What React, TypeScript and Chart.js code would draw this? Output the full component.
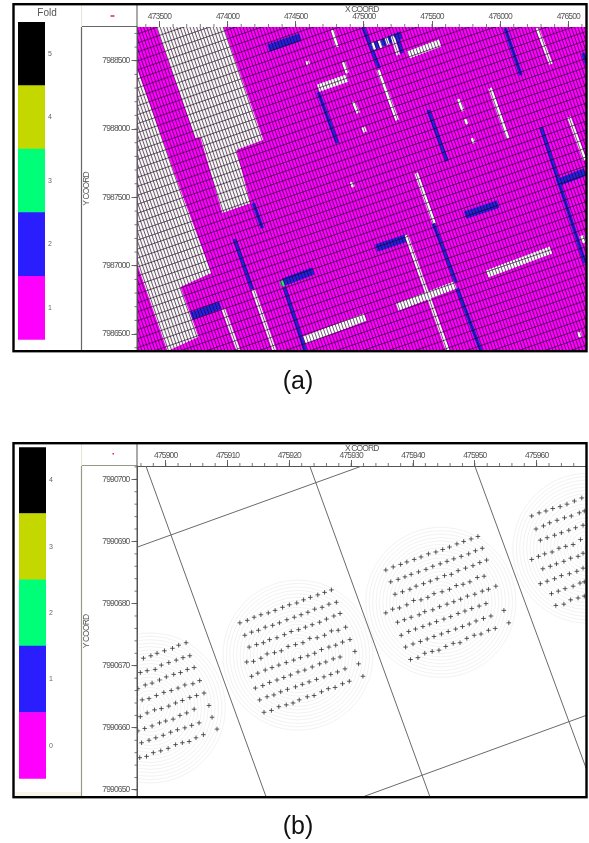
import React, { useEffect, useRef } from "react";
import { Chart, registerables } from "chart.js";

Chart.register(...registerables);

/* ---------- panel (a): offsets in metres from the base coordinate ---------- */
const baseA = [473000, 7986000];
const xRangeA = [473339, 476630];
const yRangeA = [7986376, 7988747];
const xTicksA = [473500, 474000, 474500, 475000, 475500, 476000, 476500];
const yTicksA = [7986500, 7987000, 7987500, 7988000, 7988500];
const foldLabelsA = ["5", "4", "3", "2", "1"];

const gridAngleDeg = 19;
const gridRowSpacing = 62;
const gridColSpacing = 23;

const emptyBlockTop = [[478, 2747], [969, 2747], [1262, 1920], [1064, 1846], [1167, 1458], [962, 1385], [801, 1941], [764, 1934]];
const emptyBlockLeft = [[339, 2432], [654, 1554], [881, 946], [654, 844], [786, 478], [559, 376], [339, 1005]];

const blueRowStrips = [
  [1299, 2593, 1534, 2673], [2061, 2600, 2274, 2688], [3417, 1605, 3623, 1685], [2743, 1371, 2985, 1451],
  [2091, 1129, 2311, 1202], [1409, 880, 1629, 961], [735, 631, 947, 712],
];
const blueColStrips = [
  [1995, 2739, 2113, 2447], [2245, 2666, 2281, 2556], [1665, 2271, 1805, 1898], [2472, 2139, 2611, 1766],
  [3036, 2739, 3153, 2395], [3300, 2015, 3623, 1019], [3608, 2556, 3630, 2483], [2508, 1312, 2677, 880],
  [2684, 836, 2860, 375], [1050, 1195, 1182, 829], [1189, 1458, 1255, 1275], [1416, 843, 1570, 375],
];
const greenColStrips = [[1394, 888, 1409, 851]];
const whiteColStrips = [
  [1768, 2725, 1805, 2600], [1585, 2498, 1592, 2469], [1849, 2490, 1878, 2410], [1922, 2198, 1959, 2117],
  [1995, 2015, 2010, 1978], [2105, 2432, 2245, 2066], [2692, 2220, 2728, 2132], [2743, 2073, 2758, 2037],
  [2794, 1934, 2809, 1898], [2926, 2300, 3058, 1934], [3271, 2739, 3373, 2476], [3505, 2088, 3623, 1773],
  [1907, 1612, 1922, 1575], [2384, 1678, 2516, 1312], [2311, 1224, 2618, 375], [969, 682, 1079, 382],
  [1189, 822, 1343, 382], [2215, 2666, 2252, 2542], [3579, 514, 3586, 478],
];
const whiteRowStrips = [
  [1665, 2300, 1878, 2373], [2325, 2542, 2560, 2630], [2245, 697, 2670, 859], [2904, 939, 3373, 1115],
  [1563, 456, 2010, 624], [3593, 1188, 3623, 1202], [2060, 2605, 2080, 2612], [2110, 2618, 2130, 2625],
  [2161, 2640, 2181, 2647], [2205, 2655, 2225, 2662],
];

/* ---------- panel (b): offsets in metres from the base coordinate ---------- */
const baseB = [475900, 7990650];
const xRangeB = [475895.44, 475967.98];
const yRangeB = [7990648.87, 7990702.14];
const xTicksB = [475900, 475910, 475920, 475930, 475940, 475950, 475960];
const yTicksB = [7990650, 7990660, 7990670, 7990680, 7990690, 7990700];
const foldLabelsB = ["4", "3", "2", "1", "0"];

const surveyLines = [
  [[-3.2, 52.14], [16.2, -1.0]],
  [[23.3, 52.14], [42.7, -1.0]],
  [[50.0, 52.14], [68.0, 3.5]],
  [[-4.56, 39.1], [31.75, 52.14]],
  [[31.75, -1.16], [68.0, 12.0]],
];
const ringCentres = [[-2.5, 13.2], [21.4, 21.7], [44.5, 30.2], [68.3, 38.9]];
const ringRadii = [75, 71.6, 68.2, 64.8, 61.4, 58, 54.6, 51.2, 47.8, 44.4, 41, 37.6, 34.2, 30.8, 27.4, 24, 20.6, 17.2, 13.8, 10.4, 7, 3.6];

const clusterOne = [
  [-3.6,21.2],[-2.4,21.6],[-1.4,22.0],[-0.2,22.4],[1.1,22.8],[2.1,23.3],[3.3,23.7],
  [-4.1,18.9],[-3.0,19.2],[-1.7,19.4],[-0.7,20.1],[0.5,20.5],[1.7,20.9],[2.8,21.3],[3.9,21.6],
  [-4.5,16.3],[-3.3,16.9],[-2.2,17.2],[-1.0,17.7],[0.1,18.2],[1.3,18.6],[2.4,18.9],[3.5,19.4],[4.6,19.7],
  [-3.8,14.5],[-2.7,14.7],[-1.5,15.2],[-0.3,15.7],[0.9,16.0],[2.0,16.4],[3.1,16.9],[4.4,17.1],[5.5,17.6],
  [-4.1,11.8],[-3.0,12.4],[-1.8,12.9],[-0.7,13.1],[0.5,13.5],[1.6,14.0],[2.7,14.4],[3.9,14.9],[5.0,15.2],[6.2,15.6],
  [-4.5,9.5],[-3.4,9.9],[-2.2,10.3],[-1.0,10.8],[0.0,11.1],[1.2,11.4],[2.3,12.0],[3.4,12.4],[4.6,13.0],[7.0,13.6],
  [-3.9,7.6],[-2.7,8.0],[-1.6,8.4],[-0.4,8.8],[0.8,9.3],[1.9,9.7],[3.1,10.0],[4.2,10.4],[5.4,10.8],[7.5,11.7],
  [-4.2,5.2],[-3.1,5.4],[-2.0,6.0],[-0.8,6.3],[0.4,6.7],[1.6,7.3],[2.7,7.6],[3.8,7.8],[4.9,8.4],[6.1,8.9],[8.3,9.8],
];
const clusterTwo = [
  [12.0,26.9],[13.2,27.3],[14.3,27.8],[15.4,28.2],[16.6,28.5],[17.7,28.9],[18.9,29.4],[20.0,29.8],[21.2,30.1],[22.3,30.6],[23.4,31.0],[24.6,31.4],[25.7,31.8],[26.8,32.2],
  [12.8,24.9],[13.9,25.4],[15.0,25.7],[16.1,26.2],[17.3,26.5],[18.4,26.9],[19.6,27.4],[20.8,27.8],[21.9,28.2],[23.0,28.6],[24.1,29.1],[25.3,29.4],[26.4,29.9],[27.6,30.2],
  [13.5,23.0],[14.7,23.4],[15.8,23.7],[16.8,24.2],[18.0,24.5],[19.2,25.0],[20.3,25.5],[21.5,25.8],[22.6,26.2],[23.7,26.6],[24.9,27.0],[26.0,27.5],[27.2,28.0],[28.2,28.4],
  [13.1,20.6],[14.2,20.7],[15.4,21.2],[16.4,21.9],[17.6,22.1],[18.7,22.4],[19.8,23.1],[21.0,23.4],[22.2,23.7],[23.3,24.4],[24.5,24.5],[25.7,24.9],[26.8,25.6],[27.9,25.7],[29.1,26.2],
  [13.9,18.3],[14.9,18.8],[16.1,19.3],[17.2,19.7],[18.3,20.1],[19.5,20.5],[20.7,20.9],[21.8,21.3],[23.0,21.6],[24.1,22.0],[25.2,22.6],[26.4,23.0],[27.5,23.3],[28.6,23.8],[29.8,24.2],
  [14.5,16.4],[15.7,16.8],[16.8,17.3],[18.0,17.7],[19.1,18.1],[20.2,18.5],[21.4,19.0],[22.5,19.3],[23.7,19.8],[24.9,20.3],[25.9,20.6],[27.1,21.1],[28.2,21.4],
  [15.2,14.5],[16.4,15.0],[17.5,15.3],[18.6,15.8],[19.7,16.2],[21.0,16.6],[22.1,17.0],[23.2,17.4],[24.4,17.8],[25.6,18.2],[26.7,18.6],[27.8,19.0],[29.0,19.5],
  [15.9,12.5],[17.1,12.8],[18.3,13.4],[19.5,13.7],[20.6,14.0],[21.6,14.5],[22.9,15.0],[24.0,15.2],[25.2,15.8],[26.3,16.3],[27.4,16.5],[28.6,17.1],[29.7,17.5],
  [30.6,22.3],[31.2,20.3],[31.9,18.3],
];
const clusterThree = [
  [35.6,35.4],[36.8,35.9],[38.0,36.3],[39.0,36.7],[40.2,37.1],[41.3,37.5],[42.5,38.0],[43.7,38.3],[44.8,38.7],[45.9,39.1],[47.1,39.6],[48.2,40.0],[49.4,40.4],[50.5,40.8],
  [36.4,33.5],[37.6,33.9],[38.7,34.3],[39.7,34.7],[40.9,35.1],[42.1,35.5],[43.2,36.0],[44.4,36.4],[45.5,36.8],[46.6,37.2],[47.8,37.6],[49.0,38.0],[50.1,38.5],[51.2,38.9],
  [37.1,31.5],[38.3,31.9],[39.5,32.3],[40.5,32.8],[41.7,33.2],[42.8,33.6],[43.9,34.0],[45.1,34.5],[46.2,34.7],[47.3,35.3],[48.5,35.7],[49.7,36.1],[50.8,36.6],[51.9,37.0],
  [35.6,28.5],[36.7,29.1],[37.8,29.3],[39.0,29.8],[40.1,30.5],[41.3,30.6],[42.4,31.0],[43.4,31.6],[44.7,31.9],[45.9,32.3],[47.0,32.9],[48.1,33.1],[49.2,33.5],[50.4,34.2],[51.5,34.4],
  [37.5,27.0],[38.6,27.4],[39.7,27.8],[41.0,28.2],[41.9,28.7],[43.2,29.0],[44.3,29.5],[45.5,29.9],[46.6,30.3],[47.7,30.7],[48.8,31.2],[50.0,31.5],[51.2,32.0],[52.2,32.3],[53.4,32.8],
  [38.1,24.9],[39.3,25.5],[40.4,25.9],[41.6,26.3],[42.7,26.7],[43.8,27.1],[45.0,27.5],[46.1,27.9],[47.3,28.4],[48.4,28.8],[49.5,29.2],[50.7,29.6],[51.8,30.0],
  [38.8,23.0],[40.0,23.5],[41.2,23.9],[42.3,24.3],[43.4,24.7],[44.6,25.1],[45.7,25.5],[46.9,25.9],[48.0,26.3],[49.1,26.7],[50.2,27.2],[51.4,27.6],[52.6,28.0],
  [39.6,21.0],[40.8,21.3],[41.9,22.0],[43.1,22.3],[44.2,22.5],[45.3,23.1],[46.5,23.6],[47.6,23.7],[48.7,24.4],[49.9,24.9],[51.0,25.1],[52.2,25.7],[53.3,26.0],
  [54.7,28.9],[55.5,26.9],
];
const clusterFour = [
  [59.2,44.1],[60.4,44.6],[61.5,44.9],[62.6,45.3],[63.8,45.6],[64.9,46.0],[66.1,46.5],[67.3,47.0],
  [59.9,42.0],[61.1,42.5],[62.1,43.0],[63.3,43.4],[64.5,43.8],[65.6,44.1],[66.9,44.6],[67.7,44.9],
  [60.6,40.2],[61.7,40.6],[62.9,41.0],[64.0,41.4],[65.2,41.8],[66.3,42.2],[67.5,42.6],
  [59.2,37.1],[60.3,37.6],[61.3,38.0],[62.5,38.3],[63.6,38.9],[64.7,39.2],[65.9,39.5],[67.1,40.3],
  [61.0,35.6],[62.2,36.0],[63.2,36.4],[64.4,36.8],[65.5,37.3],[66.7,37.6],[67.5,38.1],
  [60.6,33.2],[61.7,33.6],[62.9,34.0],[64.0,34.5],[65.3,34.8],[66.5,35.2],[67.5,35.7],
  [62.4,31.6],[63.5,32.0],[64.6,32.4],[65.9,32.8],[67.0,33.3],[67.7,33.5],
  [63.1,29.7],[64.4,29.9],[65.5,30.6],[66.7,30.9],[67.7,31.2],
];

/* ---------- colours ---------- */
const foldColours = ["#000000", "#c4d800", "#00ff78", "#2a1eff", "#ff00ff"];
const tickFont = '"Liberation Sans", sans-serif';
const tickGrey = "#555555";

const range = (from: number, to: number, step: number) => {
  const out: number[] = [];
  for (let v = from; v <= to; v += step) out.push(v);
  return out;
};

type Pt = { x: number; y: number };

const lineSet = (data: Pt[], color: string, width: number, fill?: string) => ({
  data,
  showLine: true,
  pointRadius: 0,
  borderColor: color,
  borderWidth: width,
  backgroundColor: color,
  fill: fill ?? false,
  tension: 0,
  clip: 0,
  spanGaps: false,
});

const offsetA = (p: number[]): Pt => ({ x: baseA[0] + p[0], y: baseA[1] + p[1] });
const offsetB = (p: number[]): Pt => ({ x: baseB[0] + p[0], y: baseB[1] + p[1] });
const stripA = (s: number[]) => [offsetA([s[0], s[1]]), offsetA([s[2], s[3]])];

/* cell borders of the regular survey lattice */
const latticeLines = (): Pt[] => {
  const a = (gridAngleDeg * Math.PI) / 180;
  const u = [Math.cos(a), Math.sin(a)];
  const v = [Math.sin(a), -Math.cos(a)];
  const c = [(xRangeA[0] + xRangeA[1]) / 2, (yRangeA[0] + yRangeA[1]) / 2];
  const reach = 2600;
  const pts: Pt[] = [];
  const gap = { x: NaN, y: NaN };
  for (let k = -reach; k <= reach; k += gridRowSpacing) {
    pts.push({ x: c[0] + v[0] * k - u[0] * reach, y: c[1] + v[1] * k - u[1] * reach });
    pts.push({ x: c[0] + v[0] * k + u[0] * reach, y: c[1] + v[1] * k + u[1] * reach });
    pts.push(gap);
  }
  for (let k = -reach; k <= reach; k += gridColSpacing) {
    pts.push({ x: c[0] + u[0] * k - v[0] * reach, y: c[1] + u[1] * k - v[1] * reach });
    pts.push({ x: c[0] + u[0] * k + v[0] * reach, y: c[1] + u[1] * k + v[1] * reach });
    pts.push(gap);
  }
  return pts;
};

const datasetsA = () => {
  const layers: any[] = [
    lineSet([[339, 376], [3630, 376], [3630, 2747], [339, 2747]].map(offsetA), foldColours[4], 0, "shape"),
    lineSet(emptyBlockTop.map(offsetA), "#f6f6f2", 0, "shape"),
    lineSet(emptyBlockLeft.map(offsetA), "#f6f6f2", 0, "shape"),
    ...blueRowStrips.map((s) => lineSet(stripA(s), "#2222e0", 7.6)),
    ...blueColStrips.map((s) => lineSet(stripA(s), "#2222e0", 3.6)),
    ...greenColStrips.map((s) => lineSet(stripA(s), "#30e070", 3.6)),
    ...whiteRowStrips.map((s) => lineSet(stripA(s), "#ffffff", 7.6)),
    ...whiteColStrips.map((s) => lineSet(stripA(s), "#ffffff", 3.6)),
    lineSet(latticeLines(), "rgba(30,0,40,0.72)", 0.9),
  ];
  return layers.map((d, i) => ({ ...d, order: layers.length - i }));
};

const datasetsB = () => {
  const layers: any[] = [
    ...ringRadii.map((r) => ({
      data: ringCentres.map(offsetB),
      pointStyle: "circle",
      pointRadius: r,
      pointBorderWidth: 0.5,
      pointBorderColor: "#e4e4e4",
      pointBackgroundColor: "rgba(0,0,0,0)",
      showLine: false,
      clip: 0,
    })),
    ...surveyLines.map((l) => lineSet(l.map(offsetB), "#6a6a6a", 1)),
    ...[clusterOne, clusterTwo, clusterThree, clusterFour].map((c) => ({
      data: c.map(offsetB),
      pointStyle: "cross",
      pointRadius: 2.3,
      pointBorderWidth: 0.8,
      pointBorderColor: "#333333",
      showLine: false,
      clip: 0,
    })),
  ];
  return layers.map((d, i) => ({ ...d, order: layers.length - i }));
};

type PanelSpec = {
  top: number; bottom: number; areaTop: number;
  xRange: number[]; yRange: number[]; xTicks: number[]; yTicks: number[];
  xMinor: number[]; yMinor: number[];
  sepColor: string; markColor: string; markY: number; markW: number; markH: number;
  datasets: any[]; footer?: boolean;
};

const panelPlugin = (p: PanelSpec) => ({
  id: "panelChrome",
  beforeDraw(chart: any) {
    const c = chart.ctx;
    c.letterSpacing = "-0.85px";
    c.save();
    c.fillStyle = "#ffffff";
    c.fillRect(13, p.top, 574, p.bottom - p.top);
    if (p.footer) {
      c.fillStyle = "#f6f5e6";
      c.fillRect(14, p.bottom - 5, 67, 4);
    }
    c.restore();
  },
  afterDraw(chart: any) {
    const c = chart.ctx;
    const { x, y } = chart.scales;
    const area = chart.chartArea;
    c.save();
    c.strokeStyle = tickGrey;
    c.lineWidth = 0.8;
    c.beginPath();
    p.xMinor.forEach((v) => {
      const px = x.getPixelForValue(v);
      c.moveTo(px, area.top);
      c.lineTo(px, area.top - 3);
    });
    p.yMinor.forEach((v) => {
      const py = y.getPixelForValue(v);
      c.moveTo(area.left, py);
      c.lineTo(area.left - 3, py);
    });
    c.stroke();

    c.strokeStyle = p.sepColor;
    c.lineWidth = 1.2;
    c.beginPath();
    c.moveTo(81.5, p.areaTop);
    c.lineTo(81.5, p.bottom);
    c.moveTo(81, p.areaTop - 0.5);
    c.lineTo(area.left, p.areaTop - 0.5);
    c.stroke();
    c.strokeStyle = "#555555";
    c.lineWidth = 1;
    c.beginPath();
    c.moveTo(area.left - 0.5, p.top);
    c.lineTo(area.left - 0.5, p.bottom);
    c.stroke();
    c.strokeStyle = "#e5e5da";
    c.beginPath();
    c.moveTo(81.5, p.top);
    c.lineTo(81.5, p.areaTop);
    c.stroke();

    c.fillStyle = p.markColor;
    c.fillRect(110.5 + (p.markW > 2 ? 0 : 2), p.markY, p.markW, p.markH);

    c.strokeStyle = "#000000";
    c.lineWidth = 2.4;
    c.strokeRect(13.5, p.top + 0.2, 573, p.bottom - p.top);
    c.restore();
    c.letterSpacing = "0px";
  },
});

const makePanel = (canvas: HTMLCanvasElement, p: PanelSpec) => {
  const left = 137.5;
  const right = 586;
  const axisOptions = (range2: number[], ticks: number[], title: string, position: string, size: number) => ({
    type: "linear",
    position,
    min: range2[0],
    max: range2[1],
    afterBuildTicks: (s: any) => {
      s.ticks = ticks.map((value) => ({ value }));
    },
    afterFit: (s: any) => {
      if (position === "top") s.height = size;
      else s.width = size;
    },
    grid: { drawOnChartArea: false, drawTicks: true, tickLength: 6, tickColor: tickGrey, tickWidth: 0.9 },
    border: { display: true, color: "#555555", width: 1 },
    ticks: {
      autoSkip: false,
      maxRotation: 0,
      minRotation: 0,
      padding: position === "top" ? -1 : 2,
      color: tickGrey,
      font: { family: tickFont, size: 8.5 },
      callback: (v: number) => String(v),
    },
    title: {
      display: true,
      text: title,
      color: "#555555",
      font: { family: tickFont, size: 8.5, lineHeight: 1 },
      padding: { top: 1, bottom: 0 },
    },
  });
  return new Chart(canvas, {
    type: "scatter",
    data: { datasets: p.datasets },
    options: {
      responsive: false,
      animation: false,
      events: [],
      layout: {
        autoPadding: false,
        padding: { left: 81, right: canvas.width - right, top: p.top, bottom: canvas.height - p.bottom },
      },
      plugins: { legend: { display: false }, tooltip: { enabled: false }, title: { display: false } },
      scales: {
        x: axisOptions(p.xRange, p.xTicks, "X COORD", "top", p.areaTop - p.top),
        y: axisOptions(p.yRange, p.yTicks, "Y COORD", "left", left - 81),
      },
    } as any,
    plugins: [panelPlugin(p)],
  } as any);
};

const makeFoldBar = (canvas: HTMLCanvasElement, labels: string[], title: string | null) =>
  new Chart(canvas, {
    type: "bar",
    data: {
      labels,
      datasets: [
        {
          data: labels.map(() => 1),
          backgroundColor: foldColours,
          barPercentage: 1,
          categoryPercentage: 1,
          borderWidth: 0,
        },
      ],
    },
    options: {
      indexAxis: "y",
      responsive: false,
      animation: false,
      events: [],
      layout: { autoPadding: false, padding: { left: 4 } },
      plugins: {
        legend: { display: false },
        tooltip: { enabled: false },
        title: {
          display: !!title,
          text: title ?? "",
          color: "#555555",
          font: { family: tickFont, size: 10, weight: "normal", lineHeight: 1.2 },
          padding: { top: 1, bottom: 3 },
        },
      },
      scales: {
        x: { type: "linear", min: 0, max: 1, display: false },
        y: {
          type: "category",
          position: "right",
          afterFit: (s: any) => {
            s.width = 31;
          },
          grid: { display: false, drawTicks: false, tickLength: 0 },
          border: { display: false },
          ticks: { color: "#666666", padding: 3, font: { family: tickFont, size: 7 } },
        },
      },
    } as any,
  } as any);

const absolute = (left: number, top: number): React.CSSProperties => ({
  position: "absolute",
  left,
  top,
  display: "block",
  filter: "blur(0.3px)",
});

export default function App() {
  const panelA = useRef<HTMLCanvasElement>(null);
  const panelB = useRef<HTMLCanvasElement>(null);
  const barA = useRef<HTMLCanvasElement>(null);
  const barB = useRef<HTMLCanvasElement>(null);

  useEffect(() => {
    const charts = [
      makePanel(panelA.current!, {
        top: 4,
        bottom: 351,
        areaTop: 27,
        xRange: xRangeA,
        yRange: yRangeA,
        xTicks: xTicksA,
        yTicks: yTicksA,
        xMinor: range(473400, 476600, 100),
        yMinor: range(7986400, 7988700, 100),
        sepColor: "#666666",
        markColor: "#e0607c",
        markY: 15,
        markW: 4,
        markH: 2,
        datasets: datasetsA(),
      }),
      makePanel(panelB.current!, {
        top: 443,
        bottom: 797,
        areaTop: 466,
        xRange: xRangeB,
        yRange: yRangeB,
        xTicks: xTicksB,
        yTicks: yTicksB,
        xMinor: range(475896, 475966, 2),
        yMinor: range(7990650, 7990702, 2),
        sepColor: "#999988",
        markColor: "#e02050",
        markY: 453,
        markW: 1.5,
        markH: 1.5,
        datasets: datasetsB(),
        footer: true,
      }),
      makeFoldBar(barA.current!, foldLabelsA, "Fold"),
      makeFoldBar(barB.current!, foldLabelsB, null),
    ];
    return () => charts.forEach((c) => c.destroy());
  }, []);

  const caption: React.CSSProperties = {
    position: "absolute",
    width: 100,
    textAlign: "center",
    font: '25px/30px "Liberation Sans", Arial, sans-serif',
    color: "#111111",
  };

  return (
    <div style={{ position: "absolute", left: 0, top: 0, width: 589, height: 843, background: "#ffffff", overflow: "hidden" }}>
      <canvas ref={panelA} width={589} height={400} style={absolute(0, 0)} />
      <canvas ref={panelB} width={589} height={843} style={absolute(0, 0)} />
      <canvas ref={barA} width={62} height={341} style={absolute(14, 6)} />
      <canvas ref={barB} width={62} height={346} style={absolute(14.5, 440)} />
      <div style={{ ...caption, left: 248, top: 365 }}>(a)</div>
      <div style={{ ...caption, left: 248, top: 810 }}>(b)</div>
    </div>
  );
}
